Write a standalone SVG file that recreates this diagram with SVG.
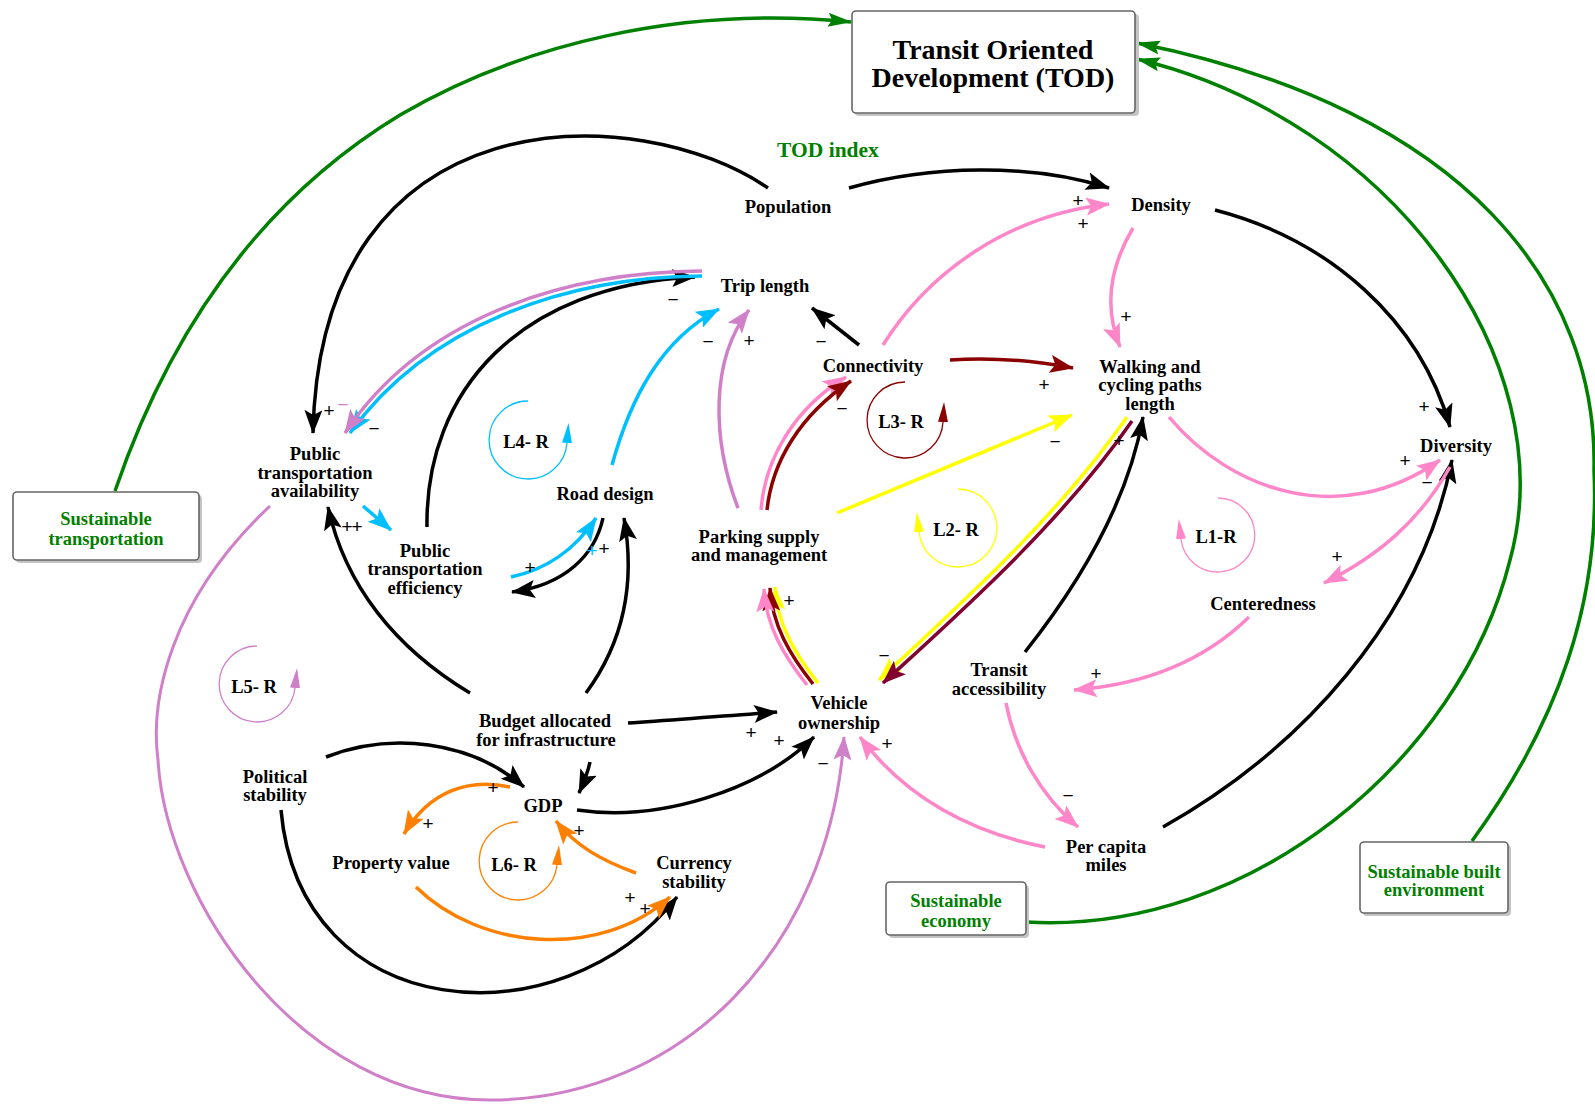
<svg xmlns="http://www.w3.org/2000/svg" width="1595" height="1104" viewBox="0 0 1595 1104">
<style>
.lbl{font-family:"Liberation Serif","Times New Roman",serif;font-weight:bold;font-size:18.5px;text-anchor:middle;fill:#000}
.glbl{fill:#008000}
.title{font-size:28px}
.pol{font-family:"Liberation Sans",Arial,sans-serif;font-size:19px;text-anchor:middle;fill:#000}
.box{fill:#fff;stroke:#666;stroke-width:1.6}
.shadow{fill:#c4c4c4}
.c{fill:none;stroke-width:3.5}
.k{stroke:#000}
.g{stroke:#008000}
.p{stroke:#ff86c8}
.o{stroke:#d07fc9}
.b{stroke:#00bfff}
.or{stroke:#ff8000}
.r{stroke:#8b0000}
.m{stroke:#800030}
.y{stroke:#ffff00}
.loop{fill:none;stroke-width:1.3}
</style>
<defs>
<marker id="ak" markerUnits="userSpaceOnUse" viewBox="0 0 26 20" markerWidth="26" markerHeight="20" refX="23" refY="9" orient="auto"><path d="M0,0 L24,9 L0,18 L5,9 z" fill="#000"/></marker>
<marker id="ag" markerUnits="userSpaceOnUse" viewBox="0 0 26 16" markerWidth="26" markerHeight="16" refX="23" refY="7" orient="auto"><path d="M0,0 L24,7 L0,14 L4,7 z" fill="#008000"/></marker>
<marker id="ap" markerUnits="userSpaceOnUse" viewBox="0 0 26 20" markerWidth="26" markerHeight="20" refX="23" refY="9" orient="auto"><path d="M0,0 L24,9 L0,18 L5,9 z" fill="#ff86c8"/></marker>
<marker id="ao" markerUnits="userSpaceOnUse" viewBox="0 0 26 20" markerWidth="26" markerHeight="20" refX="23" refY="9" orient="auto"><path d="M0,0 L24,9 L0,18 L5,9 z" fill="#d07fc9"/></marker>
<marker id="ab" markerUnits="userSpaceOnUse" viewBox="0 0 26 20" markerWidth="26" markerHeight="20" refX="23" refY="9" orient="auto"><path d="M0,0 L24,9 L0,18 L5,9 z" fill="#00bfff"/></marker>
<marker id="aor" markerUnits="userSpaceOnUse" viewBox="0 0 26 20" markerWidth="26" markerHeight="20" refX="23" refY="9" orient="auto"><path d="M0,0 L24,9 L0,18 L5,9 z" fill="#ff8000"/></marker>
<marker id="ar" markerUnits="userSpaceOnUse" viewBox="0 0 26 20" markerWidth="26" markerHeight="20" refX="23" refY="9" orient="auto"><path d="M0,0 L24,9 L0,18 L5,9 z" fill="#8b0000"/></marker>
<marker id="am" markerUnits="userSpaceOnUse" viewBox="0 0 26 20" markerWidth="26" markerHeight="20" refX="23" refY="9" orient="auto"><path d="M0,0 L24,9 L0,18 L5,9 z" fill="#800030"/></marker>
<marker id="ay" markerUnits="userSpaceOnUse" viewBox="0 0 26 20" markerWidth="26" markerHeight="20" refX="23" refY="9" orient="auto"><path d="M0,0 L24,9 L0,18 L5,9 z" fill="#ffff00"/></marker>
<marker id="lb" markerUnits="userSpaceOnUse" viewBox="0 0 22 12" markerWidth="22" markerHeight="12" refX="0" refY="5" orient="auto"><path d="M0,0 L20,5 L0,10 z" fill="#00bfff"/></marker>
<marker id="lr" markerUnits="userSpaceOnUse" viewBox="0 0 22 12" markerWidth="22" markerHeight="12" refX="0" refY="5" orient="auto"><path d="M0,0 L20,5 L0,10 z" fill="#8b0000"/></marker>
<marker id="ly" markerUnits="userSpaceOnUse" viewBox="0 0 22 12" markerWidth="22" markerHeight="12" refX="0" refY="5" orient="auto"><path d="M0,0 L20,5 L0,10 z" fill="#ffff00"/></marker>
<marker id="lp" markerUnits="userSpaceOnUse" viewBox="0 0 22 12" markerWidth="22" markerHeight="12" refX="0" refY="5" orient="auto"><path d="M0,0 L20,5 L0,10 z" fill="#ff86c8"/></marker>
<marker id="lo" markerUnits="userSpaceOnUse" viewBox="0 0 22 12" markerWidth="22" markerHeight="12" refX="0" refY="5" orient="auto"><path d="M0,0 L20,5 L0,10 z" fill="#d07fc9"/></marker>
<marker id="lor" markerUnits="userSpaceOnUse" viewBox="0 0 22 12" markerWidth="22" markerHeight="12" refX="0" refY="5" orient="auto"><path d="M0,0 L20,5 L0,10 z" fill="#ff8000"/></marker>
</defs>
<rect width="1595" height="1104" fill="#fff"/>

<g id="connectors">
<!-- green -->
<path class="c g" d="M115,491 C170,330 260,200 400,115 C520,45 680,5 851,22" marker-end="url(#ag)"/>
<path class="c g" d="M1472,841 C1560,720 1600,600 1594,470 C1598,290 1470,110 1137,43" marker-end="url(#ag)"/>
<path class="c g" d="M1026,922 C1250,935 1460,760 1510,560 C1565,360 1390,120 1137,59" marker-end="url(#ag)"/>
<!-- black -->
<path class="c k" d="M768,188 C640,100 320,90 313,433" marker-end="url(#ak)"/>
<path class="c k" d="M849,188 C930,165 1030,163 1109,188" marker-end="url(#ak)"/>
<path class="c k" d="M1215,210 C1330,240 1420,320 1450,427" marker-end="url(#ak)"/>
<path class="c k" d="M427,527 C425,390 520,285 695,277" marker-end="url(#ak)"/>
<path class="c k" d="M859,345 L812,308" marker-end="url(#ak)"/>
<path class="c k" d="M470,693 C395,648 345,585 328,507" marker-end="url(#ak)"/>
<path class="c k" d="M586,693 C625,640 635,580 624,518" marker-end="url(#ak)"/>
<path class="c k" d="M603,518 C595,555 565,585 512,592" marker-end="url(#ak)"/>
<path class="c k" d="M628,723 C680,719 730,716 777,712" marker-end="url(#ak)"/>
<path class="c k" d="M590,762 C588,772 584,782 579,793" marker-end="url(#ak)"/>
<path class="c k" d="M326,757 C390,732 470,740 524,787" marker-end="url(#ak)"/>
<path class="c k" d="M577,810 C660,822 760,790 814,737" marker-end="url(#ak)"/>
<path class="c k" d="M281,810 C300,1025 560,1045 677,897" marker-end="url(#ak)"/>
<path class="c k" d="M1025,652 C1090,570 1130,490 1143,417" marker-end="url(#ak)"/>
<path class="c k" d="M1163,827 C1300,750 1420,620 1452,460" marker-end="url(#ak)"/>
<!-- pink -->
<path class="c p" d="M883,345 C930,270 1010,215 1109,204" marker-end="url(#ap)"/>
<path class="c p" d="M1133,228 C1108,270 1105,310 1120,347" marker-end="url(#ap)"/>
<path class="c p" d="M1169,417 C1230,490 1340,530 1440,460" marker-end="url(#ap)"/>
<path class="c p" d="M1450,467 C1420,520 1380,555 1324,583" marker-end="url(#ap)"/>
<path class="c p" d="M1249,617 C1200,665 1140,685 1074,690" marker-end="url(#ap)"/>
<path class="c p" d="M1006,703 C1015,750 1040,795 1078,827" marker-end="url(#ap)"/>
<path class="c p" d="M1045,847 C960,830 900,790 860,737" marker-end="url(#ap)"/>
<!-- vehicle -> parking (triple) -->
<path class="c y" d="M818,683 C795,654 777,624 775,587" marker-end="url(#ay)"/>
<path class="c r" d="M813,684 C790,655 772,625 770,588" marker-end="url(#ar)"/>
<path class="c p" d="M807,685 C784,656 766,626 764,589" marker-end="url(#ap)"/>
<!-- parking -> connectivity -->
<path class="c p" d="M761,510 C765,458 795,408 846,377" marker-end="url(#ap)"/>
<path class="c r" d="M767,510 C772,462 800,415 851,381" marker-end="url(#ar)"/>
<!-- walking -> vehicle -->
<path class="c y" d="M1127,417 C1057,518 957,607 879,680" marker-end="url(#ay)"/>
<path class="c m" d="M1132,421 C1062,522 962,611 883,683" marker-end="url(#am)"/>
<!-- connectivity -> walking -->
<path class="c r" d="M950,360 C990,357 1030,360 1073,368" marker-end="url(#ar)"/>
<!-- parking -> walking -->
<path class="c y" d="M837,513 L1072,415" marker-end="url(#ay)"/>
<!-- trip length -> availability -->
<path class="c b" d="M702,276 C565,277 428,325 350,433" marker-end="url(#ab)"/>
<path class="c o" d="M702,271 C560,272 420,320 345,433" marker-end="url(#ao)"/>
<!-- blue -->
<path class="c b" d="M363,506 L391,530" marker-end="url(#ab)"/>
<path class="c b" d="M511,577 C545,570 575,550 596,518" marker-end="url(#ab)"/>
<path class="c b" d="M612,465 C630,400 660,340 719,309" marker-end="url(#ab)"/>
<!-- orchid -->
<path class="c o" d="M738,508 C712,440 710,360 749,310" marker-end="url(#ao)"/>
<path class="c o" style="stroke-width:3" d="M270,506 C170,600 150,700 158,760 C166,900 300,1100 490,1100 C680,1100 830,950 844,737" marker-end="url(#ao)"/>
<!-- orange -->
<path class="c or" d="M510,787 C470,778 430,790 404,834" marker-end="url(#aor)"/>
<path class="c or" d="M636,873 C600,860 575,845 556,821" marker-end="url(#aor)"/>
<path class="c or" d="M416,887 C480,950 600,960 670,897" marker-end="url(#aor)"/>
</g>

<g id="loops">
<g id="loop-L1"><path class="loop" stroke="#ff86c8" d="M1218,498 A37,37 0 1 1 1181,539" marker-end="url(#lp)"/><text class="lbl" x="1216" y="543">L1-R</text></g>
<g id="loop-L2"><path class="loop" stroke="#ffff00" d="M958,489 A39,39 0 1 1 919,532" marker-end="url(#ly)"/><text class="lbl" x="956" y="536">L2- R</text></g>
<g id="loop-L3"><path class="loop" stroke="#8b0000" d="M905,382 A38,38 0 1 0 943,422" marker-end="url(#lr)"/><text class="lbl" x="901" y="428">L3- R</text></g>
<g id="loop-L4"><path class="loop" stroke="#00bfff" d="M528,401 A39,39 0 1 0 567,443" marker-end="url(#lb)"/><text class="lbl" x="526" y="448">L4- R</text></g>
<g id="loop-L5"><path class="loop" stroke="#d07fc9" d="M257,646 A38,38 0 1 0 295,688" marker-end="url(#lo)"/><text class="lbl" x="254" y="693">L5- R</text></g>
<g id="loop-L6"><path class="loop" stroke="#ff8000" d="M518,822 A39,39 0 1 0 557,865" marker-end="url(#lor)"/><text class="lbl" x="514" y="871">L6- R</text></g>
</g>

<g id="n-tod">
<rect class="shadow" x="855" y="14" width="284" height="102" rx="4"/>
<rect class="box" x="852" y="11" width="283" height="102" rx="4"/>
<text class="lbl title"><tspan x="993" y="59">Transit Oriented</tspan><tspan x="993" y="87">Development (TOD)</tspan></text>
</g>
<g id="n-todindex"><text class="lbl glbl" style="font-size:21.5px" x="828" y="157">TOD index</text></g>
<g id="n-sust-transport">
<rect class="shadow" x="16" y="495" width="186" height="68" rx="4"/>
<rect class="box" x="13" y="492" width="186" height="68" rx="4"/>
<text class="lbl glbl"><tspan x="106" y="525">Sustainable</tspan><tspan x="106" y="545">transportation</tspan></text>
</g>
<g id="n-sust-economy">
<rect class="shadow" x="889" y="885" width="140" height="53" rx="4"/>
<rect class="box" x="886" y="882" width="140" height="53" rx="4"/>
<text class="lbl glbl"><tspan x="956" y="907">Sustainable</tspan><tspan x="956" y="927">economy</tspan></text>
</g>
<g id="n-sust-built">
<rect class="shadow" x="1363" y="845" width="148" height="71" rx="4"/>
<rect class="box" x="1360" y="842" width="148" height="71" rx="4"/>
<text class="lbl glbl"><tspan x="1434" y="878">Sustainable built</tspan><tspan x="1434" y="896">environment</tspan></text>
</g>

<g id="n-population"><text class="lbl" x="788" y="213">Population</text></g>
<g id="n-density"><text class="lbl" x="1161" y="211">Density</text></g>
<g id="n-triplength"><text class="lbl" x="765" y="292">Trip length</text></g>
<g id="n-connectivity"><text class="lbl" x="873" y="372">Connectivity</text></g>
<g id="n-walking"><text class="lbl"><tspan x="1150" y="373">Walking and</tspan><tspan x="1150" y="391">cycling paths</tspan><tspan x="1150" y="410">length</tspan></text></g>
<g id="n-diversity"><text class="lbl" x="1456" y="452">Diversity</text></g>
<g id="n-pta"><text class="lbl"><tspan x="315" y="460">Public</tspan><tspan x="315" y="479">transportation</tspan><tspan x="315" y="497">availability</tspan></text></g>
<g id="n-pte"><text class="lbl"><tspan x="425" y="557">Public</tspan><tspan x="425" y="575">transportation</tspan><tspan x="425" y="594">efficiency</tspan></text></g>
<g id="n-road"><text class="lbl" x="605" y="500">Road design</text></g>
<g id="n-parking"><text class="lbl"><tspan x="759" y="543">Parking supply</tspan><tspan x="759" y="561">and management</tspan></text></g>
<g id="n-centeredness"><text class="lbl" x="1263" y="610">Centeredness</text></g>
<g id="n-transit"><text class="lbl"><tspan x="999" y="676">Transit</tspan><tspan x="999" y="695">accessibility</tspan></text></g>
<g id="n-vehicle"><text class="lbl"><tspan x="839" y="709">Vehicle</tspan><tspan x="839" y="729">ownership</tspan></text></g>
<g id="n-budget"><text class="lbl"><tspan x="545" y="727">Budget allocated</tspan><tspan x="546" y="746">for infrastructure</tspan></text></g>
<g id="n-political"><text class="lbl"><tspan x="275" y="783">Political</tspan><tspan x="275" y="801">stability</tspan></text></g>
<g id="n-gdp"><text class="lbl" x="543" y="812">GDP</text></g>
<g id="n-property"><text class="lbl" x="391" y="869">Property value</text></g>
<g id="n-currency"><text class="lbl"><tspan x="694" y="869">Currency</tspan><tspan x="694" y="888">stability</tspan></text></g>
<g id="n-percapita"><text class="lbl"><tspan x="1106" y="853">Per capita</tspan><tspan x="1106" y="871">miles</tspan></text></g>

<g id="polarities">
<text class="pol" x="1078" y="207">+</text>
<text class="pol" x="1083" y="230">+</text>
<text class="pol" x="1126" y="323">+</text>
<text class="pol" x="1424" y="413">+</text>
<text class="pol" x="1405" y="467">+</text>
<text class="pol" x="1427" y="489">−</text>
<text class="pol" x="1337" y="563">+</text>
<text class="pol" x="1096" y="680">+</text>
<text class="pol" x="1068" y="802">−</text>
<text class="pol" x="887" y="750">+</text>
<text class="pol" x="823" y="770">−</text>
<text class="pol" x="751" y="739">+</text>
<text class="pol" x="779" y="747">+</text>
<text class="pol" x="884" y="662">−</text>
<text class="pol" x="789" y="607">+</text>
<text class="pol" x="1044" y="391">+</text>
<text class="pol" x="1055" y="448">−</text>
<text class="pol" x="1119" y="447">+</text>
<text class="pol" x="842" y="415">−</text>
<text class="pol" x="821" y="348">−</text>
<text class="pol" x="708" y="348">−</text>
<text class="pol" x="749" y="347">+</text>
<text class="pol" x="673" y="306">−</text>
<text class="pol" x="329" y="417">+</text>
<text class="pol" x="343" y="411" style="fill:#d07fc9">−</text>
<text class="pol" x="374" y="435">−</text>
<text class="pol" x="347" y="533">+</text>
<text class="pol" x="357" y="533">+</text>
<text class="pol" x="592" y="557" style="fill:#00bfff">+</text>
<text class="pol" x="604" y="555">+</text>
<text class="pol" x="530" y="574">+</text>
<text class="pol" x="493" y="794">+</text>
<text class="pol" x="428" y="830">+</text>
<text class="pol" x="579" y="837">+</text>
<text class="pol" x="630" y="904">+</text>
<text class="pol" x="645" y="915">+</text>
</g>
</svg>
